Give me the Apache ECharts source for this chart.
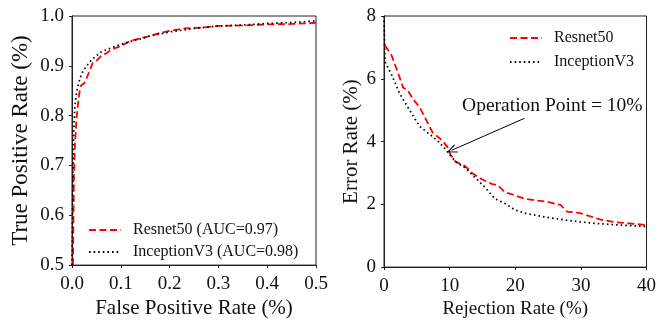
<!DOCTYPE html>
<html>
<head>
<meta charset="utf-8">
<script src="https://cdn.jsdelivr.net/npm/echarts@6/dist/echarts.min.js"></script>
<style>
html, body { margin: 0; padding: 0; background: #fff; }
#main { width: 659px; height: 324px; }
</style>
</head>
<body>
<div id="main"></div>
<script>
// ROC curves: [false positive rate, true positive rate]
var rocResnet = [[0.002,0.5],[0.003,0.6],[0.004,0.68],[0.006,0.74],[0.009,0.79],[0.012,0.82],[0.015,0.845],[0.018,0.86],[0.025,0.865],[0.03,0.875],[0.036,0.89],[0.042,0.905],[0.05,0.91],[0.06,0.92],[0.07,0.925],[0.08,0.932],[0.1,0.94],[0.12,0.95],[0.14,0.955],[0.16,0.96],[0.18,0.966],[0.2,0.97],[0.23,0.975],[0.27,0.977],[0.3,0.98],[0.35,0.981],[0.4,0.983],[0.45,0.984],[0.5,0.986]];
var rocInception = [[0,0.5],[0.001,0.6],[0.002,0.7],[0.004,0.78],[0.006,0.82],[0.01,0.85],[0.015,0.87],[0.02,0.885],[0.03,0.9],[0.04,0.912],[0.05,0.92],[0.06,0.928],[0.08,0.936],[0.1,0.943],[0.12,0.949],[0.14,0.954],[0.16,0.96],[0.2,0.968],[0.25,0.975],[0.3,0.98],[0.35,0.982],[0.4,0.985],[0.45,0.987],[0.5,0.99]];

// error rate vs rejection rate: [rejection %, error %]
var errResnet = [[0.15,7.06],[1.15,6.75],[2.4,6.03],[2.9,5.72],[3.65,5.62],[4.4,5.36],[5.4,5.1],[6.4,4.7],[7.4,4.29],[8.9,4.03],[9.65,3.83],[10.15,3.57],[10.9,3.36],[12.4,3.21],[13.4,3.0],[14.9,2.8],[16.4,2.65],[17.4,2.6],[18.4,2.39],[19.9,2.29],[21.4,2.18],[22.9,2.13],[24.9,2.08],[26.9,1.98],[27.9,1.77],[29.9,1.72],[31.4,1.62],[32.9,1.52],[34.9,1.44],[36.9,1.4],[40,1.34]];
var errInception = [[0,8],[0.15,6.54],[1.15,6.13],[2.4,5.52],[3.9,5.0],[5.4,4.49],[6.9,4.24],[8.4,3.98],[9.9,3.62],[10.9,3.36],[12.4,3.16],[13.9,2.85],[15.4,2.54],[16.9,2.18],[18.4,2.03],[19.9,1.83],[21.4,1.72],[23.9,1.62],[26.9,1.52],[29.9,1.44],[32.9,1.38],[36.9,1.33],[40,1.29]];

var rocNames = ['Resnet50 (AUC=0.97)', 'InceptionV3 (AUC=0.98)'];
var errNames = ['Resnet50', 'InceptionV3'];

// annotation: arrow from text to the operating point
var opText = 'Operation Point = 10%';
var opTextAt = [11.9, 5.15];
var opArrowFrom = [21.4, 4.74];
var opArrowTo = [10.3, 3.72];

var font = '"Liberation Serif", serif';
var chart = echarts.init(document.getElementById('main'));

function axisCommon(min, max, interval, fmt) {
    return {
        min: min, max: max, interval: interval,
        axisLine: { show: true, lineStyle: { color: '#222', width: 1 } },
        axisTick: { show: true, length: 3, lineStyle: { color: '#222' } },
        splitLine: { show: false },
        axisLabel: { color: '#111', fontFamily: font, fontSize: 19, margin: 9, formatter: fmt },
        nameLocation: 'middle',
        nameTextStyle: { color: '#111', fontFamily: font, fontSize: 20 }
    };
}

var fmt1 = function (v) { return v.toFixed(1); };
var fmt0 = function (v) { return String(v); };

var xRoc = axisCommon(0, 0.5, 0.1, fmt1);
xRoc.type = 'value'; xRoc.gridIndex = 0; xRoc.name = 'False Positive Rate (%)'; xRoc.nameGap = 30;
xRoc.nameTextStyle.fontSize = 21;
var yRoc = axisCommon(0.5, 1.0, 0.1, fmt1);
yRoc.type = 'value'; yRoc.gridIndex = 0; yRoc.name = 'True Positive Rate (%)'; yRoc.nameGap = 40;
yRoc.axisLabel.margin = 8; yRoc.nameTextStyle.fontSize = 23;
var xErr = axisCommon(0, 40, 10, fmt0);
xErr.type = 'value'; xErr.gridIndex = 1; xErr.name = 'Rejection Rate (%)'; xErr.nameGap = 30;
xErr.nameTextStyle.fontSize = 19;
var yErr = axisCommon(0, 8, 2, fmt0);
yErr.type = 'value'; yErr.gridIndex = 1; yErr.name = 'Error Rate (%)'; yErr.nameGap = 22;
yErr.axisLabel.margin = 8; yErr.nameTextStyle.fontSize = 21;

var redLine = { color: '#ff0000', width: 1.8, type: [7, 3.5] };
var blackLine = { color: '#000000', width: 1.7, type: [1.6, 3] };

var legendCommon = {
    orient: 'vertical', itemWidth: 32, itemHeight: 10,
    itemStyle: { opacity: 0 },
    textStyle: { fontFamily: font, fontSize: 16, color: '#111', padding: [0, 0, 0, 7] }
};

option = {
    backgroundColor: '#fff',
    animation: false,
    grid: [
        { left: 72, right: 343, top: 16, bottom: 52, show: true, borderColor: '#222', borderWidth: 1 },
        { left: 384, right: 8, top: 16, bottom: 48, show: true, borderColor: '#222', borderWidth: 1 }
    ],
    xAxis: [xRoc, xErr],
    yAxis: [yRoc, yErr],
    legend: [
        Object.assign({ data: rocNames, left: 83, top: 217, itemGap: 6 }, legendCommon),
        Object.assign({ data: errNames, left: 504, top: 25, itemGap: 8 }, legendCommon)
    ],
    series: [
        { name: rocNames[0], type: 'line', xAxisIndex: 0, yAxisIndex: 0, data: rocResnet, showSymbol: false, symbol: 'none', lineStyle: redLine, itemStyle: { color: '#ff0000' } },
        { name: rocNames[1], type: 'line', xAxisIndex: 0, yAxisIndex: 0, data: rocInception, showSymbol: false, symbol: 'none', lineStyle: blackLine, itemStyle: { color: '#000' } },
        { name: errNames[0], type: 'line', xAxisIndex: 1, yAxisIndex: 1, data: errResnet, showSymbol: false, symbol: 'none', lineStyle: redLine, itemStyle: { color: '#ff0000' } },
        {
            name: errNames[1], type: 'line', xAxisIndex: 1, yAxisIndex: 1, data: errInception, showSymbol: false, symbol: 'none', lineStyle: blackLine, itemStyle: { color: '#000' },
            markLine: {
                silent: true,
                symbol: ['none', 'path://M5,0 L10,10 L8.8,10 L5,2.4 L1.2,10 L0,10 Z'],
                symbolSize: [9, 10],
                lineStyle: { color: '#000', width: 1, type: 'solid' },
                label: { show: false },
                data: [[{ coord: opArrowFrom }, { coord: opArrowTo }]]
            },
            markPoint: {
                silent: true,
                symbol: 'circle', symbolSize: 0,
                label: { show: true, position: 'right', distance: 0, formatter: opText, fontFamily: font, fontSize: 19.5, color: '#111' },
                data: [{ coord: opTextAt }]
            }
        }
    ]
};
chart.setOption(option);
</script>
</body>
</html>
